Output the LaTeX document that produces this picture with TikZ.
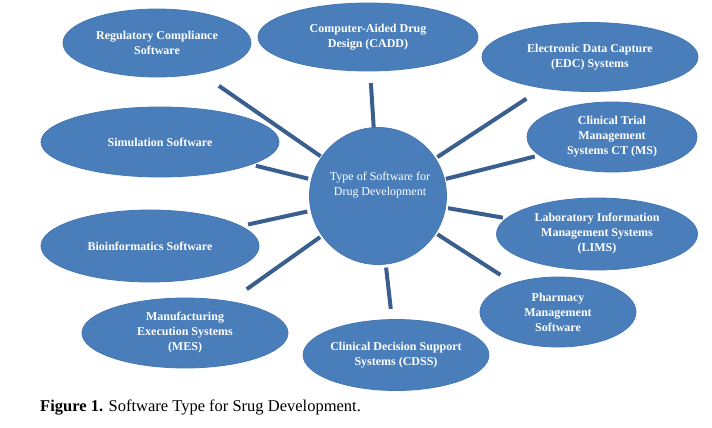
\documentclass[tikz,border=0pt]{standalone}
\usepackage{fontspec}
\setmainfont{Liberation Serif}
\usetikzlibrary{calc,shapes.geometric}
\definecolor{ellfill}{HTML}{4A7EBB}
\definecolor{ellline}{HTML}{4577B3}
\definecolor{spoke}{HTML}{3A5F8E}
\begin{document}
\begin{tikzpicture}[x=1pt,y=-1pt,
  ell/.style={ellipse,fill=ellfill,draw=ellline,line width=0.8pt,text=white,
    font=\fontsize{12}{15}\selectfont\bfseries,align=center,inner sep=0pt},
  spokeline/.style={draw=spoke,line width=4pt}]
\useasboundingbox (0,0) rectangle (712,428);
\fill[white] (0,0) rectangle (712,428);
% center
\node[circle,fill=ellfill,draw=ellline,line width=0.8pt,minimum size=137pt,inner sep=0pt] (c) at (378,196) {};
\node[text=white,font=\fontsize{12}{15}\selectfont,align=center] (ct) at (380,185) {Type of Software for\\Drug Development};
% ellipses
\node[ell,minimum width=188pt,minimum height=68pt] (reg) at (157,43) {Regulatory Compliance\\Software};
\node[ell,minimum width=220pt,minimum height=68pt] (cadd) at (368,37) {Computer-Aided Drug\\Design (CADD)};
\node[ell,minimum width=216pt,minimum height=69pt] (edc) at (590,57) {Electronic Data Capture\\(EDC) Systems};
\node[ell,minimum width=170pt,minimum height=70pt] (ctms) at (612,137) {Clinical Trial\\Management\\Systems CT (MS)};
\node[ell,minimum width=238pt,minimum height=70pt] (sim) at (160,142) {Simulation Software};
\node[ell,minimum width=218pt,minimum height=72pt] (bio) at (150,246) {Bioinformatics Software};
\node[ell,minimum width=206pt,minimum height=70pt] (mes) at (185,333) {Manufacturing\\Execution Systems\\(MES)};
\node[ell,minimum width=184pt,minimum height=71pt] (cdss) at (396,355) {Clinical Decision Support\\Systems (CDSS)};
\node[ell,minimum width=201pt,minimum height=72pt] (lims) at (597,234) {Laboratory Information\\Management Systems\\(LIMS)};
\node[ell,minimum width=156pt,minimum height=70pt] (phar) at (558,312) {Pharmacy\\Management\\Software};
% spokes
\draw[spokeline] ($(c.center)!0.26!(reg.center)$) -- ($(c.center)!0.72!(reg.center)$);
\draw[spokeline] ($(c.center)!0.43!(cadd.center)$) -- ($(c.center)!0.71!(cadd.center)$);
\draw[spokeline] ($(c.center)!0.28!(edc.center)$) -- ($(c.center)!0.70!(edc.center)$);
\draw[spokeline] ($(c.center)!0.29!(ctms.center)$) -- ($(c.center)!0.67!(ctms.center)$);
\draw[spokeline] ($(c.center)!0.32!(sim.center)$) -- ($(c.center)!0.56!(sim.center)$);
\draw[spokeline] ($(c.center)!0.31!(bio.center)$) -- ($(c.center)!0.57!(bio.center)$);
\draw[spokeline] ($(c.center)!0.30!(mes.center)$) -- ($(c.center)!0.68!(mes.center)$);
\draw[spokeline] ($(c.center)!0.45!(cdss.center)$) -- ($(c.center)!0.71!(cdss.center)$);
\draw[spokeline] ($(c.center)!0.32!(lims.center)$) -- ($(c.center)!0.57!(lims.center)$);
\draw[spokeline] ($(c.center)!0.33!(phar.center)$) -- ($(c.center)!0.68!(phar.center)$);
% caption
\node[anchor=base west,inner sep=0pt,font=\fontsize{16.5}{18}\selectfont] (cap) at (40,411) {\textbf{Figure 1.} Software Type for Srug Development.};
\end{tikzpicture}
\end{document}
